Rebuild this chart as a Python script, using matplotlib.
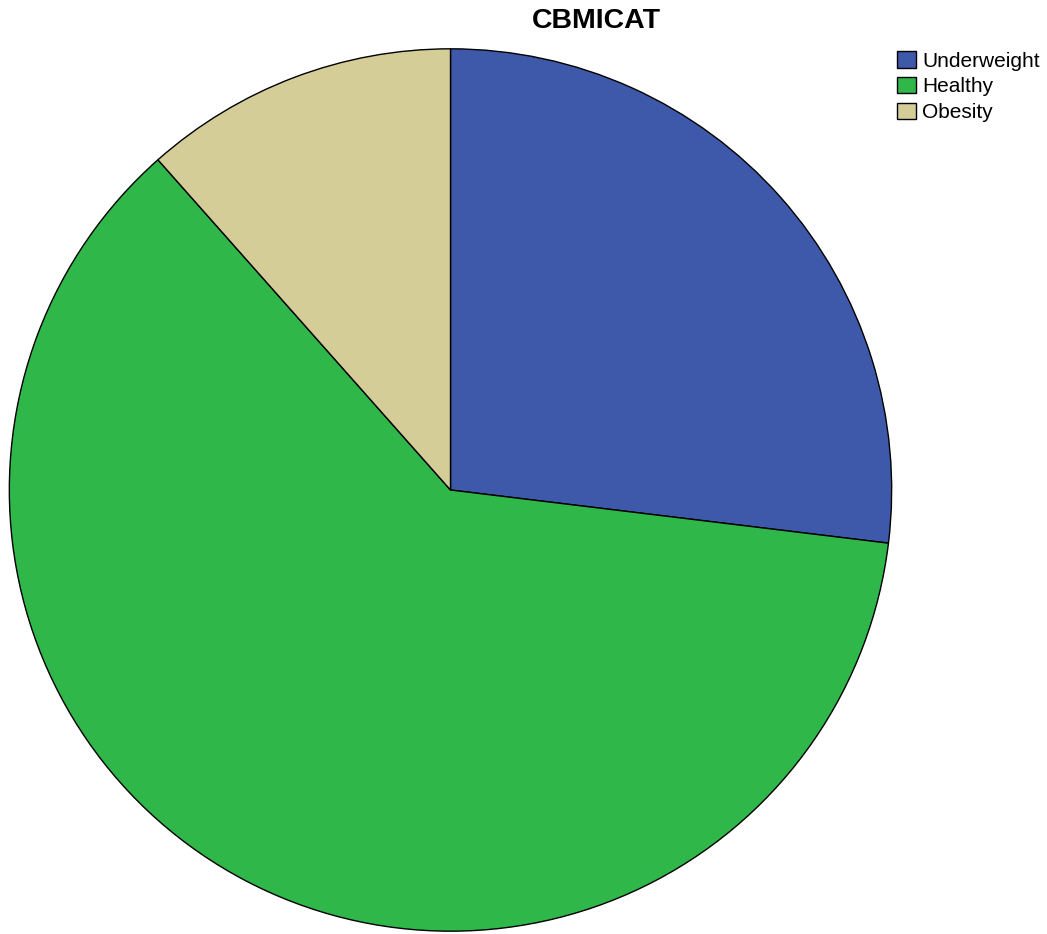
import matplotlib.pyplot as plt
from matplotlib.patches import Patch

labels = ["Underweight", "Healthy", "Obesity"]
counts = [7, 16, 3]
colors = ["#3e58aa", "#2fb749", "#d4cd98"]

W, H = 1047, 934
fig = plt.figure(figsize=(W / 100, H / 100), dpi=100)
plt.rcParams['font.family'] = ['Liberation Sans', 'DejaVu Sans']

# pie centre ~ (450.5, 490) px, radius ~ 442.5 px
cx, cy, r = 450.5, 490, 442.5
ax = fig.add_axes([(cx - r) / W, (H - cy - r) / H, 2 * r / W, 2 * r / H])
ax.pie(counts, colors=colors, startangle=90, counterclock=False,
       radius=1, wedgeprops=dict(edgecolor="black", linewidth=1.0))
ax.set_xlim(-1.003, 1.003)
ax.set_ylim(-1.003, 1.003)
ax.set_aspect("equal")
ax.axis("off")

fig.text(596 / W, 1 - 21 / H, "CBMICAT", ha="center", va="center",
         fontsize=20.5, fontweight="bold")

handles = [Patch(facecolor=c, edgecolor="black", linewidth=1.0) for c in colors]
fig.legend(handles, labels, loc="upper left", bbox_to_anchor=(897 / W, 1 - 51 / H),
           frameon=False, fontsize=15, handlelength=0.9, handleheight=0.85,
           handletextpad=0.3, labelspacing=0.3, borderpad=0, borderaxespad=0)

fig.savefig("out.png", dpi=100, facecolor="white")
